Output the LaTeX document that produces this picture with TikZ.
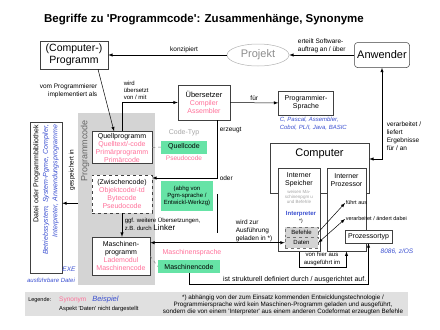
\documentclass[tikz,border=0pt]{standalone}
\usepackage{fontspec}
\setmainfont{Liberation Sans}
\usepackage{xcolor}
\usepackage{tikz}
\usetikzlibrary{calc, shapes.geometric, positioning}

\definecolor{synrosa}{HTML}{FF7099}
\definecolor{bspblau}{HTML}{3A4FD0}
\definecolor{codegruen}{HTML}{66E3A6}
\newcommand{\fsz}[2]{\fontsize{#1}{#2}\selectfont}
\newcommand{\synon}[1]{\textcolor{synrosa}{#1}}
\newcommand{\bsp}[1]{\textcolor{bspblau}{\itshape #1}}

\begin{document}
\begin{tikzpicture}[>=latex, x=1pt, y=-1pt, line width=0.5pt,
    box/.style={draw=black!75, fill=white, inner sep=1pt, align=center, font=\fsz{7}{8}},
    gruen/.style={fill=codegruen, inner sep=1pt, align=center, font=\fsz{7}{8}},
    minibox/.style={draw=black!55, dashed, fill=black!17, inner sep=0pt, minimum width=33, minimum height=10.5, font=\fsz{6}{7}},
    lbl/.style={inner sep=0.5pt, align=left, font=\fsz{6.5}{8}}]
    \useasboundingbox (0,0) rectangle (440,330);

    % 1. Titel
    \node[font=\bfseries\fsz{11.5}{13}] (titel) at (204,20)
        {Begriffe zu \textquotesingle Programmcode\textquotesingle: Zusammenhänge, Synonyme};

    % 2. Programm, Projekt, Anwender
    \node[box, minimum width=68, minimum height=28, font=\fsz{10.5}{12}] (prog) at (74,55) {(Computer-)\\Programm};
    \node[ellipse, draw=black!30, text=black!45, minimum width=62, minimum height=22, inner sep=1pt,
        font=\fsz{11}{12}] (projekt) at (258,55) {Projekt};
    \node[box, rounded corners=3pt, minimum width=55, minimum height=25, font=\fsz{11}{12}] (anwender) at (382,55) {Anwender};
    \draw[->] (anwender) -- node[lbl, above=1pt] {erteilt Software-\\auftrag an / über} (projekt);
    \draw[->] (projekt) -- node[lbl, pos=0.36, above=1pt] {konzipiert} (prog);

    % 3. Programmcode (grauer Bereich)
    \node[fill=black!17, minimum width=77, minimum height=172, anchor=north west, inner sep=0] (codebg) at (78,113) {};
    \node[rotate=90, font=\fsz{9}{10}, text=black!60] (codetxt) at (85,151) {Programmcode};
    \node[box, minimum width=60, minimum height=32] (quell) at (122,147.5)
        {Quellprogramm\\\synon{Quelltext/-code}\\\synon{Primärprogramm}\\\synon{Primärcode}};
    \node[box, dashed, minimum width=60, minimum height=38] (zwischen) at (122,194)
        {(Zwischencode)\\\synon{Objektcode/-td}\\\synon{Bytecode}\\\synon{Pseudocode}};
    \node[box, minimum width=58, minimum height=38] (maschprog) at (121,256)
        {Maschinen-\\programm\\\synon{Lademodul}\\\synon{Maschinencode}};

    \draw[->] ([xshift=24]prog.south) -- ([xshift=-8]quell.north);
    \node[lbl, anchor=north east, align=right] (implem) at (98,83) {vom Programmierer\\implementiert als};

    % 4. Übersetzer und Sprache
    \node[box, minimum width=52, minimum height=35] (uebers) at (204,102.5)
        {{\fsz{7.5}{9}Übersetzer}\\\synon{Compiler}\\\synon{Assembler}};
    \node[box, minimum width=55, minimum height=24] (sprache) at (306,103) {Programmier-\\Sprache};
    \node[anchor=north west, align=left, font=\fsz{6}{8}, inner sep=0.5pt] (sprbsp) at (279,116)
        {\bsp{C, Pascal, Assembler,}\\\bsp{Cobol, PL/I, Java, BASIC}};
    \draw[->] (quell.north) |- (uebers.west);
    \node[lbl, anchor=south west, font=\fsz{6}{7}] (uebtxt) at (123,100) {wird\\übersetzt\\von / mit};
    \draw[->] (uebers) -- node[lbl, above=1pt] {für} (sprache);

    % 5. Code-Typ
    \node[font=\fsz{7}{8}, text=black!35] (codetyp) at (184,133) {Code-Typ};
    \node[gruen, minimum width=46, minimum height=13] (quellcode) at (184,147) {Quellcode};
    \node[font=\fsz{6.5}{8}, text=synrosa] (pseudo) at (184,158) {Pseudocode};
    \node[gruen, minimum width=52, minimum height=30, font=\fsz{6}{7}] (abhg) at (187,196)
        {(abhg von\\Pgm-sprache /\\Entwickl-Werkzg)};
    \node[font=\fsz{7}{8}, text=synrosa] (maschspr) at (192,253) {Maschinensprache};
    \node[gruen, minimum width=62, minimum height=13] (maschcode) at (189,266.5) {Maschinencode};
    \draw[dashed, black!50] (quell.east) -- (quellcode.west);
    \draw[dashed, black!50] (maschprog.east) -- (maschcode.west);

    % 6. erzeugt / Linker
    \coordinate (erz) at ([xshift=13]uebers.south);
    \draw[->] (erz) |- node[lbl, pos=0.5, right=2pt] {oder} ([yshift=16]zwischen.east);
    \node[lbl, anchor=west] (erztxt) at (219,130) {erzeugt};
    \draw (erz |- zwischen.east) -- ([yshift=4]erz |- maschprog.north);
    \draw[->] (zwischen.south) -- (zwischen.south |- maschprog.north);
    \node[lbl, anchor=north west, font=\fsz{6}{7.5}] (linker) at (124,217)
        {ggf. weitere Übersetzungen,\\z.B. durch {\fsz{8}{7.5}Linker}};

    % 7. Datei / Programmbibliothek
    \node[draw=black!75, minimum width=32, minimum height=151, inner sep=0] (datei) at (46,197.5) {};
    \node[rotate=90, text width=145, align=right, font=\fsz{7}{9.5}, inner sep=0] (dateitxt) at (datei.center)
        {Datei oder Programmbibliothek\\\bsp{Betriebssystem, System-Pgme, Compiler,}\\\bsp{Interpreter, Anwendungsprogramme}};
    \node[rotate=90, font=\fsz{6.5}{7}] (gesp) at (72,170) {gespeichert in};
    \draw[->] ([yshift=-4]codebg.west) -- ([yshift=-4]codebg.west -| datei.east);
    \node[font=\fsz{6.5}{7}] (exe) at (69,269) {\bsp{EXE}};
    \node[font=\fsz{6}{7}] (ausf) at (51,280) {\bsp{ausführbare Datei}};

    % 8. Computer
    \node[box, minimum width=99, minimum height=50, anchor=north] (computer) at (319.5,143) {};
    \node[font=\fsz{11}{12}] (comptxt) at (319.5,153.5) {Computer};
    \node[box, minimum width=42, minimum height=83, anchor=north] (speicher) at (299,168) {};
    \node[box, minimum width=39, minimum height=83, anchor=north] (prozessor) at (346.5,168) {};
    \node[font=\fsz{7}{8}, align=center] (speitxt) at (299,180) {Interner\\Speicher};
    \node[font=\fsz{7}{8}, align=center] (proztxt) at (346.5,180) {Interner\\Prozessor};
    \node[font=\fsz{4.5}{5}, text=black!35, align=center] (speigrau) at (299,197) {weisen Ma-\\schinenpgm u\\und Befehle};
    \node[font=\bfseries\fsz{6}{7}, text=bspblau] (interp) at (301,214) {Interpreter};
    \node[font=\fsz{5}{6}] (stern) at (301,221.5) {*)};
    \node[minibox] (befehle) at (301.5,232.3) {Befehle};
    \node[minibox] (daten) at (301.5,242.7) {Daten};
    \node[lbl, anchor=west, font=\fsz{5.5}{6}] (fuehrt) at (345,203) {führt aus};
    \node[lbl, anchor=west, font=\fsz{5.5}{6}] (verarb) at (345,219) {verarbeitet / ändert dabei};
    \draw[->] (befehle.east) -- (fuehrt.west);
    \draw[<->] (daten.east) -- (verarb.west);
    \draw[->] (speicher.south) -- ++(0,16) -| (prozessor.south);
    \node[font=\fsz{6}{7.5}, align=center] (vonhier) at (322,259) {von hier aus\\ausgeführt im};
    \node[box, minimum width=47, minimum height=13] (proztyp) at (368.5,236.5) {Prozessortyp};
    \node[font=\fsz{6.5}{7}] (cpubsp) at (397,252) {\bsp{8086, z/OS}};

    % 9. Verbindungen zum Computer
    \draw[<->] (maschprog.east |- daten.west) -- (daten.west);
    \node[lbl, anchor=south west] (geladen) at (235,243) {wird zur\\Ausführung\\geladen in *)};
    \draw[<->] (anwender.south) |- ([yshift=-16]computer.north east);
    \node[lbl, anchor=north west] (liefert) at (386,121) {verarbeitet /\\liefert\\Ergebnisse\\für / an};
    \draw[->] (maschcode.south) -- ++(0,11) -| (proztyp.south);
    \node[lbl, anchor=south east, font=\fsz{7}{8}] (struktur) at (367,284) {ist strukturell definiert durch / ausgerichtet auf.};

    % 10. Legende
    \node[fill=black!12, minimum width=383, minimum height=24, anchor=north west, inner sep=0] (legende) at (25,292) {};
    \node[anchor=west, font=\fsz{5.5}{6}, inner sep=0] (legtxt) at (28,300) {Legende:};
    \node[anchor=west, font=\fsz{6.5}{7}, text=synrosa, inner sep=0] (legsyn) at (59,300) {Synonym};
    \node[anchor=west, font=\fsz{7.5}{8}, inner sep=0] (legbsp) at (92,300) {\bsp{Beispiel}};
    \node[anchor=west, font=\fsz{5.8}{7}, inner sep=0] (legaspekt) at (59,308.5)
        {Aspekt \textquotesingle Daten\textquotesingle{} nicht dargestellt};
    \node[font=\fsz{6.3}{7}, align=center, inner sep=0] (legstern) at (283,305)
        {*) abhängig von der zum Einsatz kommenden Entwicklungstechnologie /\\
         Programmiersprache wird kein Maschinen-Programm geladen und ausgeführt,\\
         sondern die von einem \textquotesingle Interpreter\textquotesingle{} aus einem anderen Codeformat erzeugten Befehle};
\end{tikzpicture}
\end{document}
